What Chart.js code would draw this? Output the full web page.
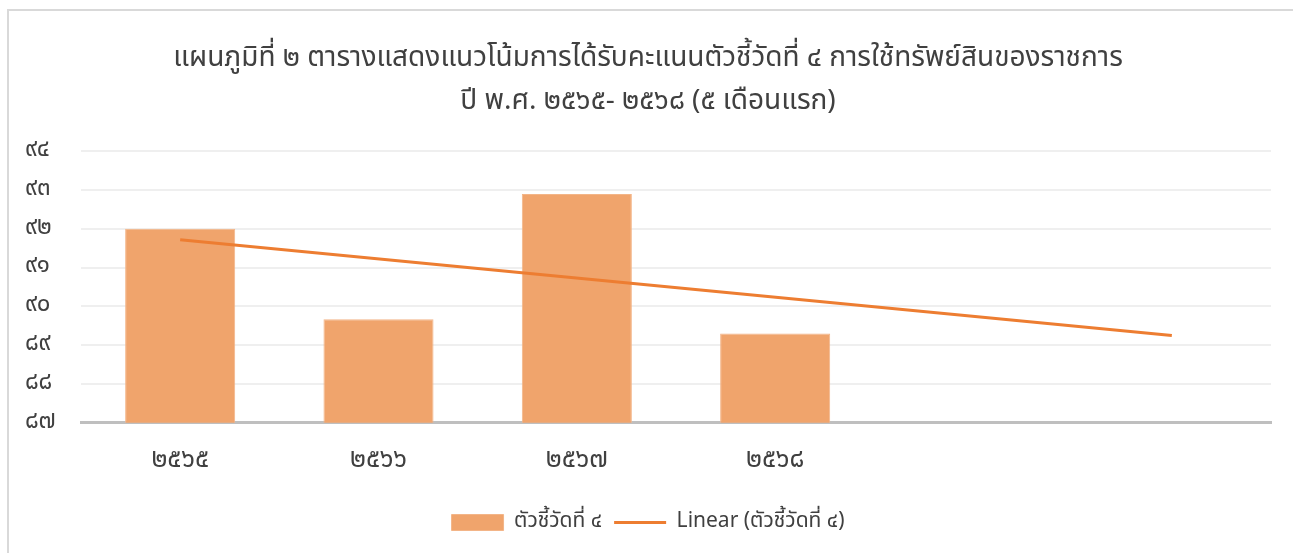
<!DOCTYPE html>
<html>
<head>
<meta charset="utf-8">
<script src="https://cdn.jsdelivr.net/npm/chart.js@4.4.1/dist/chart.umd.min.js"></script>
<style>
  html, body { margin: 0; padding: 0; background: #fff; }
  #wrap { position: relative; width: 1293px; height: 553px; overflow: hidden; }
  #frame { position: absolute; left: 7px; top: 9px; width: 1400px; height: 700px;
           border-left: 2px solid #d9d9d9; border-top: 2px solid #d9d9d9; pointer-events: none; }
  canvas { position: absolute; left: 0; top: 0; }
</style>
</head>
<body>
<div id="wrap">
  <canvas id="c" width="1293" height="553"></canvas>
  <div id="frame"></div>
</div>
<script>
const FONT = "'Noto Sans Thai', 'Leelawadee UI', Tahoma, 'Noto Sans', sans-serif";
const titleLines = [
  'แผนภูมิที่ ๒ ตารางแสดงแนวโน้มการได้รับคะแนนตัวชี้วัดที่ ๔ การใช้ทรัพย์สินของราชการ',
  'ปี พ.ศ. ๒๕๖๕- ๒๕๖๘ (๕ เดือนแรก)'
];
const categories = ['๒๕๖๕', '๒๕๖๖', '๒๕๖๗', '๒๕๖๘', '', ''];
const indicatorValues = [92.0, 89.67, 92.9, 89.3, null, null];
const trendValues = [91.72, null, null, null, null, 89.25];
const yTickValues = [87, 88, 89, 90, 91, 92, 93, 94];
const yTickLabels = ['๘๗', '๘๘', '๘๙', '๙๐', '๙๑', '๙๒', '๙๓', '๙๔'];
const seriesNames = ['ตัวชี้วัดที่ ๔', 'Linear (ตัวชี้วัดที่ ๔)'];

const TEXT = '#404040';

new Chart(document.getElementById('c'), {
  data: {
    labels: categories,
    datasets: [
      {
        type: 'line',
        label: seriesNames[1],
        data: trendValues,
        borderColor: '#ED7D31',
        backgroundColor: '#ED7D31',
        borderWidth: 3,
        pointRadius: 0,
        pointStyle: 'line',
        spanGaps: true,
        order: 0
      },
      {
        type: 'bar',
        label: seriesNames[0],
        data: indicatorValues,
        backgroundColor: '#F0A46C',
        borderColor: '#F3B588',
        borderWidth: 1,
        barPercentage: 0.555,
        categoryPercentage: 1,
        pointStyle: 'rect',
        order: 1
      }
    ]
  },
  options: {
    responsive: false,
    animation: false,
    layout: { padding: { left: 25, right: 22, top: 0, bottom: 10 } },
    plugins: {
      title: {
        display: true,
        text: titleLines,
        color: TEXT,
        font: { family: FONT, size: 28, weight: 'normal', lineHeight: 1.54 },
        padding: { top: 39, bottom: 26 }
      },
      legend: {
        position: 'bottom',
        reverse: true,
        labels: {
          color: TEXT,
          font: { family: FONT, size: 21 },
          usePointStyle: true,
          pointStyleWidth: 52,
          boxHeight: 16,
          padding: 12
        }
      },
      tooltip: { enabled: false }
    },
    scales: {
      x: {
        grid: { display: false, drawTicks: false },
        border: { display: true, color: '#bfbfbf', width: 3 },
        ticks: { color: TEXT, font: { family: FONT, size: 26 }, padding: 23, maxRotation: 0, autoSkip: false }
      },
      y: {
        min: 87,
        max: 94,
        afterBuildTicks: (scale) => { scale.ticks = yTickValues.map(v => ({ value: v })); },
        afterFit: (scale) => { scale.width = 56; },
        grid: { color: '#efefef', lineWidth: 2, drawTicks: false },
        border: { display: false },
        ticks: {
          color: TEXT,
          font: { family: FONT, size: 24 },
          crossAlign: 'far',
          padding: 0,
          callback: (v) => { const i = yTickValues.indexOf(v); return i >= 0 ? yTickLabels[i] : ''; }
        }
      }
    }
  }
});
</script>
</body>
</html>
